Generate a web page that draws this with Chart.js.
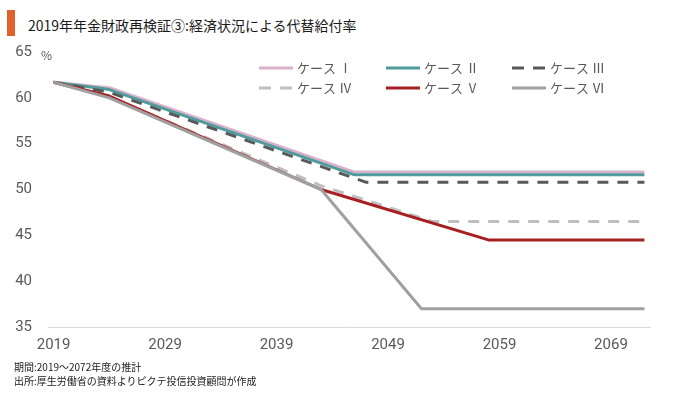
<!DOCTYPE html>
<html><head><meta charset="utf-8">
<script src="https://cdn.jsdelivr.net/npm/chart.js@4/dist/chart.umd.min.js"></script>
<style>
html,body{margin:0;padding:0;background:#fff;}
#wrap{position:relative;width:680px;height:395px;background:#fff;overflow:hidden;}
#bar{position:absolute;left:7px;top:10px;width:8px;height:26px;background:#E0622A;}
#title{position:absolute;left:28px;top:14px;font:14px "Noto Sans CJK JP",sans-serif;color:#1a1a1a;line-height:22px;white-space:nowrap;}
#notes{position:absolute;left:14px;top:360px;font:10px "Noto Sans CJK JP",sans-serif;color:#222;line-height:14px;white-space:nowrap;}
canvas{position:absolute;left:0;top:0;}
</style></head>
<body><div id="wrap">
<div id="bar"></div>
<div id="title">2019年年金財政再検証③:経済状況による代替給付率</div>
<canvas id="c" width="680" height="395"></canvas>
<div id="notes">期間:2019～2072年度の推計<br>出所:厚生労働省の資料よりピクテ投信投資顧問が作成</div>
</div>
<script>
const years = ['2019','2020','2021','2022','2023','2024','2025','2026','2027','2028','2029','2030','2031','2032','2033','2034','2035','2036','2037','2038','2039','2040','2041','2042','2043','2044','2045','2046','2047','2048','2049','2050','2051','2052','2053','2054','2055','2056','2057','2058','2059','2060','2061','2062','2063','2064','2065','2066','2067','2068','2069','2070','2071','2072'];
const tickYears = ['2019','2029','2039','2049','2059','2069'];
const seriesNames = ['ケース Ⅰ','ケース Ⅱ','ケース Ⅲ','ケース Ⅳ','ケース Ⅴ','ケース Ⅵ'];

const case1Years = ['2019','2024','2046','2072'];
const case1Values = [61.7, 61.1, 51.9, 51.9];
const case2Years = ['2019','2024','2046','2072'];
const case2Values = [61.7, 60.9, 51.6, 51.6];
const case3Years = ['2019','2024','2047','2072'];
const case3Values = [61.7, 60.6, 50.8, 50.8];
const case4Years = ['2019','2024','2043','2053','2072'];
const case4Values = [61.7, 60.1, 50.4, 46.5, 46.5];
const case5Years = ['2019','2024','2043','2058','2072'];
const case5Values = [61.7, 60.2, 50.0, 44.5, 44.5];
const case6Years = ['2019','2024','2043','2052','2072'];
const case6Values = [61.7, 60.0, 50.0, 37.0, 37.0];

const colors = ['#D8B2CB','#4E9C9C','#595959','#BFBFBF','#A81F22','#A0A0A0'];
const dashes = [[],[],[11,9],[11,9],[],[]];

function pts(ys, vs){ return ys.map((y,i)=>({x:y, y:vs[i]})); }
const allYears = [case1Years,case2Years,case3Years,case4Years,case5Years,case6Years];
const allValues = [case1Values,case2Values,case3Values,case4Values,case5Values,case6Values];

const datasets = seriesNames.map((n,i)=>({
  label:n,
  data: pts(allYears[i], allValues[i]),
  borderColor: colors[i],
  backgroundColor: colors[i],
  borderWidth: 3,
  borderDash: dashes[i],
  borderCapStyle:'butt',
  borderJoinStyle:'round',
  pointRadius:0,
  tension:0,
  fill:false,
  spanGaps:true,
  order: 6-i
}));

const legendPlugin = {
  id:'customLegend',
  afterDraw(chart){
    const ctx = chart.ctx;
    ctx.save();
    const colX = [259, 386, 512];
    const rowY = [68, 88];
    chart.data.datasets.forEach((ds,i)=>{
      const x = colX[i%3], y = rowY[Math.floor(i/3)];
      ctx.strokeStyle = ds.borderColor;
      ctx.lineWidth = 3;
      ctx.setLineDash(ds.borderDash && ds.borderDash.length ? [12,9] : []);
      ctx.beginPath(); ctx.moveTo(x, y); ctx.lineTo(x+34, y); ctx.stroke();
      ctx.setLineDash([]);
      ctx.fillStyle = '#595959';
      ctx.font = '13px "Noto Sans CJK JP", sans-serif';
      ctx.textBaseline = 'middle';
      ctx.textAlign = 'left';
      ctx.fillText(ds.label, x+38, y);
    });
    ctx.font = '12px "Noto Sans CJK JP", sans-serif';
    ctx.fillStyle = '#595959';
    ctx.textBaseline = 'middle';
    ctx.fillText('%', 41, 55);
    ctx.restore();
  }
};

new Chart(document.getElementById('c'), {
  type:'line',
  data:{labels: years, datasets},
  options:{
    responsive:false,
    devicePixelRatio:1,
    animation:false,
    layout:{padding:{left:0,right:30,top:52,bottom:0}},
    plugins:{legend:{display:false}, title:{display:false}, tooltip:{enabled:false}},
    scales:{
      x:{
        type:'category',
        offset:true,
        grid:{display:false, drawTicks:false},
        border:{display:true, color:'#D9D9D9', width:1},
        ticks:{
          autoSkip:false, maxRotation:0, padding:9,
          color:'#595959',
          font:{family:'Roboto', size:15},
          callback:function(v,i){ const l = this.getLabelForValue(v); return tickYears.includes(l) ? l : ''; }
        },
        afterFit(s){ s.height = 68; }
      },
      y:{
        min:35, max:65,
        grid:{display:false, drawTicks:false},
        border:{display:false},
        ticks:{stepSize:5, padding:16, color:'#595959', font:{family:'Roboto', size:15}},
        afterFit(s){ s.width = 48; }
      }
    }
  },
  plugins:[legendPlugin]
});
</script>
</body></html>
